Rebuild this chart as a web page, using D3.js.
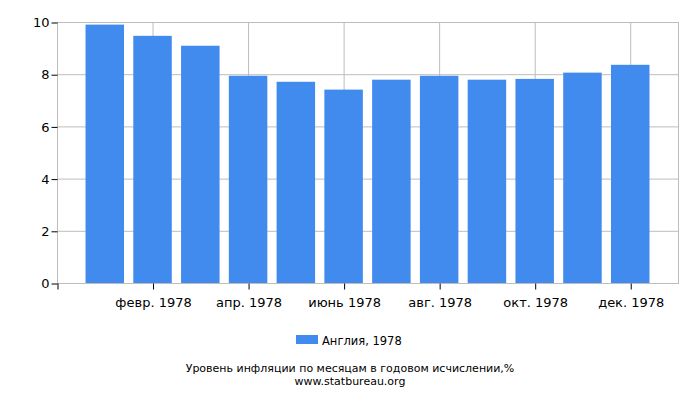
<!DOCTYPE html>
<html>
<head>
<meta charset="utf-8">
<script src="https://cdn.jsdelivr.net/npm/d3@7"></script>
<style>
  body { margin: 0; background: #fff; }
  text { font-family: "DejaVu Sans", sans-serif; fill: #000; }
</style>
</head>
<body>
<svg id="chart" width="700" height="400"></svg>
<script>
// monthly inflation, Англия 1978
const months = ['янв. 1978', 'февр. 1978', 'март 1978', 'апр. 1978', 'май 1978', 'июнь 1978',
    'июль 1978', 'авг. 1978', 'сент. 1978', 'окт. 1978', 'нояб. 1978', 'дек. 1978'];
const values = [9.90, 9.47, 9.09, 7.94, 7.71, 7.41, 7.79, 7.94, 7.79, 7.82, 8.06, 8.36];
const yTicks = [0, 2, 4, 6, 8, 10];
const seriesName = 'Англия, 1978';
const title = 'Уровень инфляции по месяцам в годовом исчислении,%';
const source = 'www.statbureau.org';

const margin = { top: 22, right: 22, bottom: 117, left: 57 },
    width = 700 - margin.left - margin.right,
    height = 400 - margin.top - margin.bottom;

const svg = d3.select('#chart');
const g = svg.append('g')
    .attr('transform', `translate(${margin.left + 0.5}, ${margin.top + 0.5})`);

// month index -1 (Dec 1977) .. 12 (Jan 1979) spans the plot
const x = d3.scaleLinear()
    .domain([-1, 12])
    .range([0, width]);

const y = d3.scaleLinear()
    .domain([0, 10])
    .range([height, 0]);

const barWidth = 38.5;
const tickIdx = [-1, 1, 3, 5, 7, 9, 11];

// grid
g.append('g')
    .selectAll('line')
    .data(yTicks)
    .join('line')
    .attr('x1', 0).attr('x2', width)
    .attr('y1', d => y(d)).attr('y2', d => y(d))
    .attr('stroke', '#bdbdbd');

g.append('g')
    .selectAll('line')
    .data(tickIdx.slice(1))
    .join('line')
    .attr('x1', d => x(d)).attr('x2', d => x(d))
    .attr('y1', 0).attr('y2', height)
    .attr('stroke', '#bdbdbd');

g.append('rect')
    .attr('width', width)
    .attr('height', height)
    .attr('fill', 'none')
    .attr('stroke', '#bdbdbd');

// bars
g.append('g')
    .selectAll('rect')
    .data(values)
    .join('rect')
    .attr('x', (d, i) => x(i) - barWidth / 2 - 0.5)
    .attr('y', d => y(d) - 0.5)
    .attr('width', barWidth)
    .attr('height', d => height - y(d))
    .attr('fill', '#428bee');

// axes
const yAxis = d3.axisLeft(y)
    .tickValues(yTicks)
    .tickSize(6)
    .tickPadding(2)
    .tickFormat(d3.format('d'));

g.append('g')
    .call(yAxis)
    .call(a => a.select('.domain').remove())
    .call(a => a.selectAll('text').style('font-size', '13px').attr('font-family', null));

const xAxis = d3.axisBottom(x)
    .tickValues(tickIdx)
    .tickSize(6)
    .tickPadding(8)
    .tickFormat(d => d >= 0 ? months[d] : '');

g.append('g')
    .attr('transform', `translate(0, ${height})`)
    .call(xAxis)
    .call(a => a.select('.domain').remove())
    .call(a => a.selectAll('text').style('font-size', '13px').attr('font-family', null));

// legend
svg.append('rect')
    .attr('x', 296).attr('y', 335)
    .attr('width', 22).attr('height', 9)
    .attr('fill', '#428bee');

svg.append('text')
    .attr('x', 322).attr('y', 345)
    .style('font-size', '11.5px')
    .text(seriesName);

svg.append('text')
    .attr('x', 350).attr('y', 372)
    .attr('text-anchor', 'middle')
    .style('font-size', '11px')
    .text(title);

svg.append('text')
    .attr('x', 350).attr('y', 385)
    .attr('text-anchor', 'middle')
    .style('font-size', '11px')
    .text(source);
</script>
</body>
</html>
